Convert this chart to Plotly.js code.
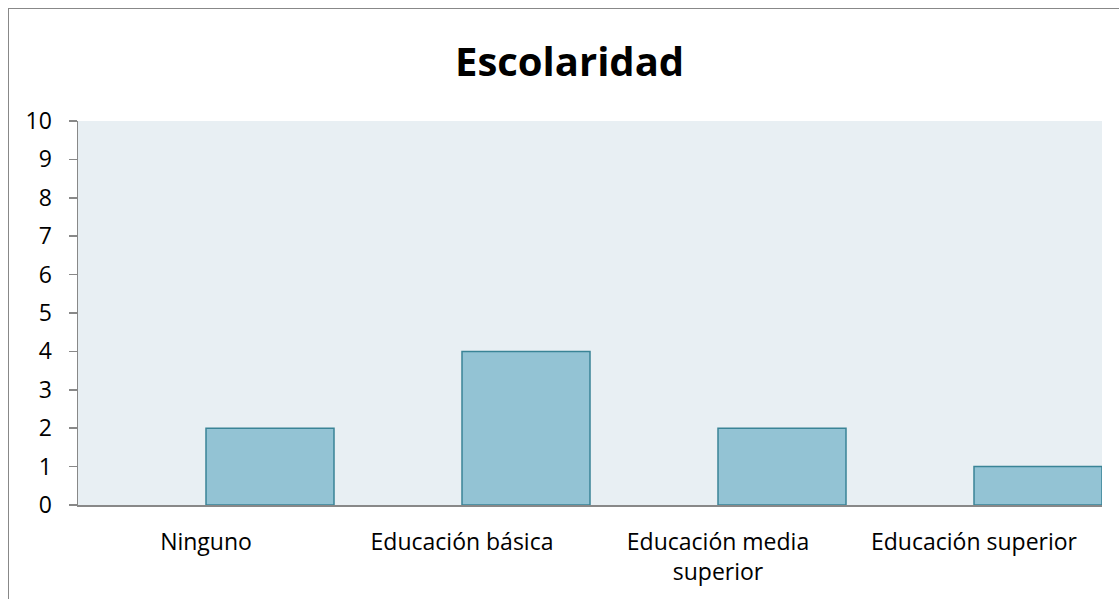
<!DOCTYPE html>
<html><head><meta charset="utf-8">
<script src="https://cdn.plot.ly/plotly-3.0.1.min.js"></script>
<style>
html,body{margin:0;padding:0;background:#fff;overflow:hidden;}
#frame{position:absolute;left:8px;top:8px;width:1200px;height:700px;border:1.5px solid #888;box-sizing:border-box;}
#chart{position:absolute;left:0;top:0;width:1119px;height:599px;}
</style></head>
<body>
<div id="frame"></div>
<div id="chart"></div>
<script>
var categories = ["Ninguno", "Educación básica", "Educación media<br>superior", "Educación superior"];
var values = [2, 4, 2, 1];
var yTicks = [0,1,2,3,4,5,6,7,8,9,10];

var trace = {
  type: 'bar',
  x: categories,
  y: values,
  offset: 0,
  width: 0.5,
  marker: {color: '#93C3D4', line: {color: '#3A8496', width: 1.5}},
  hoverinfo: 'x+y'
};
var layout = {
  width: 1119, height: 599,
  margin: {l: 78, r: 17, t: 121, b: 94},
  paper_bgcolor: 'rgba(0,0,0,0)',
  plot_bgcolor: '#E8EFF3',
  showlegend: false,
  font: {family: '"Open Sans", sans-serif', size: 23, color: '#000'},
  title: {text: '<b>Escolaridad</b>', x: 0.509, xanchor: 'center', y: 0.897, yanchor: 'middle',
          font: {family: '"Open Sans", sans-serif', size: 40, color: '#000'}},
  xaxis: {type: 'category', range: [-0.5, 3.5], showline: true, linecolor: '#888', linewidth: 1.5,
          ticks: '', showgrid: false, zeroline: false, ticklabelstandoff: 16, tickangle: 0,
          tickfont: {size: 23}},
  yaxis: {range: [0, 10], tickvals: yTicks, ticktext: yTicks.map(String), showline: true, linecolor: '#888', linewidth: 1.5,
          ticks: 'outside', ticklen: 8, tickcolor: '#888', tickwidth: 1.5, showgrid: false, zeroline: false,
          ticklabelstandoff: 12, tickfont: {size: 23}}
};
Plotly.newPlot('chart', [trace], layout, {displayModeBar: false, staticPlot: true});
</script>
</body></html>
